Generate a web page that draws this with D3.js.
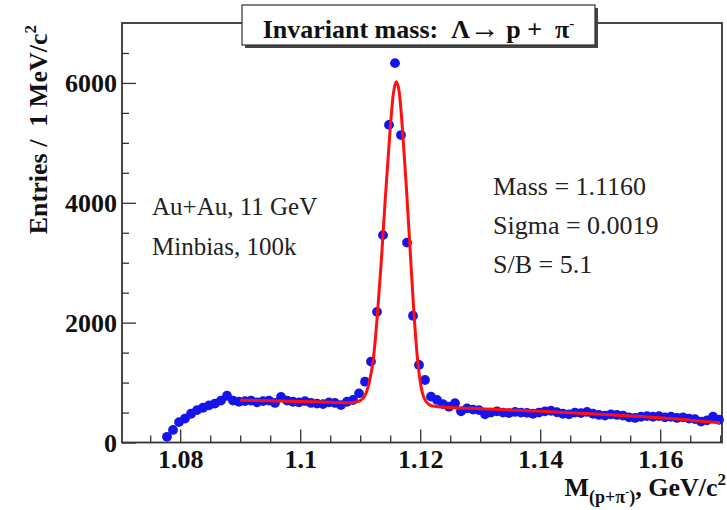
<!DOCTYPE html>
<html>
<head>
<meta charset="utf-8">
<script src="https://cdn.jsdelivr.net/npm/d3@7/dist/d3.min.js"></script>
<style>
  body { margin: 0; background: #fff; }
  svg text { font-family: "Liberation Serif", "DejaVu Serif", serif; }
</style>
</head>
<body>
<svg id="chart" width="727" height="510"></svg>
<script>
"use strict";

// histogram: 1 MeV bins, first bin centre
const binStart = 1.0778;
const binWidth = 0.001;
const counts = [
  95, 210, 340, 400, 480, 540, 580, 620, 650, 700,
  780, 700, 680, 690, 700, 670, 690, 700, 660, 760,
  700, 680, 670, 690, 660, 650, 640, 670, 660, 625,
  680, 709, 820, 1015, 1350, 2180, 3460, 5300, 6330, 5130,
  3335, 2115, 1293, 1043, 765, 710, 640, 598, 655, 520,
  570, 550, 540, 470, 500, 520, 500, 490, 510, 500,
  495, 480, 500, 520, 530, 505, 480, 470, 500, 490,
  510, 480, 460, 450, 470, 460, 450, 420, 410, 430,
  440, 430, 440, 420, 430, 410, 420, 400, 390, 350,
  370, 430, 380
];

// fit curve
const fitMass = [
  1.0900, 1.0950, 1.1000, 1.1050, 1.1080, 1.1095, 1.1105, 1.1115, 1.1122, 1.1128,
  1.1135, 1.1142, 1.1149, 1.1155, 1.1160, 1.1165, 1.1171, 1.1177, 1.1183, 1.1189,
  1.1195, 1.1202, 1.1210, 1.1220, 1.1250, 1.1300, 1.1400, 1.1500, 1.1600, 1.1700
];
const fitValue = [
  705, 695, 685, 670, 665, 680, 740, 1000, 1400, 2050,
  3000, 4100, 5100, 5800, 6020, 5850, 5150, 4250, 3250, 2250,
  1450, 900, 680, 610, 585, 565, 520, 470, 415, 330
];

const xMajor = [1.08, 1.1, 1.12, 1.14, 1.16];
const xLabels = ["1.08", "1.1", "1.12", "1.14", "1.16"];
const yMajor = [0, 2000, 4000, 6000];

const leftNotes = ["Au+Au, 11 GeV", "Minbias, 100k"];
const rightNotes = ["Mass = 1.1160", "Sigma = 0.0019", "S/B = 5.1"];

let frame = {left: 122, right: 722, top: 23, bottom: 442.5};

let svg = d3.select("#chart");

let x = d3.scaleLinear()
  .domain([1.0703, 1.1703])
  .range([frame.left, frame.right]);

let y = d3.scaleLinear()
  .domain([0, 7000])
  .range([frame.bottom, frame.top]);

// minor ticks
let xMinor = d3.range(1.075, 1.1701, 0.005).filter(v => !xMajor.some(m => Math.abs(m - v) < 1e-6));
let yMinor = d3.range(500, 7000, 500).filter(v => v % 2000 !== 0);

svg.append("g")
  .attr("transform", `translate(0,${frame.bottom})`)
  .call(d3.axisBottom(x).tickValues(xMinor).tickSize(-7).tickFormat(""))
  .call(g => g.select(".domain").remove());

svg.append("g")
  .attr("transform", `translate(${frame.left},0)`)
  .call(d3.axisLeft(y).tickValues(yMinor).tickSize(-7).tickFormat(""))
  .call(g => g.select(".domain").remove());

let xAxis = svg.append("g")
  .attr("transform", `translate(0,${frame.bottom})`)
  .call(d3.axisBottom(x).tickValues(xMajor).tickSize(-13)
    .tickFormat((d, i) => xLabels[i]))
  .call(g => g.select(".domain").remove());

xAxis.selectAll("text")
  .attr("dy", null)
  .attr("y", 25)
  .style("font-family", "Liberation Serif")
  .style("font-weight", "bold")
  .style("font-size", "26px")
  .attr("fill", "#111");

let yAxis = svg.append("g")
  .attr("transform", `translate(${frame.left},0)`)
  .call(d3.axisLeft(y).tickValues(yMajor).tickSize(-14).tickPadding(5)
    .tickFormat(d3.format("d")))
  .call(g => g.select(".domain").remove());

yAxis.selectAll("text")
  .attr("dy", "0.34em")
  .style("font-family", "Liberation Serif")
  .style("font-weight", "bold")
  .style("font-size", "26px")
  .attr("fill", "#111");

svg.selectAll(".tick line").attr("stroke", "#333").attr("stroke-width", 1.3);

// frame
svg.append("rect")
  .attr("x", frame.left)
  .attr("y", frame.top)
  .attr("width", frame.right - frame.left)
  .attr("height", frame.bottom - frame.top)
  .attr("fill", "none")
  .attr("stroke", "#333")
  .attr("stroke-width", 1.8);

// data points
svg.append("g")
  .selectAll("circle")
  .data(counts)
  .join("circle")
    .attr("cx", (d, i) => x(binStart + i * binWidth))
    .attr("cy", d => y(d))
    .attr("r", 4.9)
    .attr("fill", "#1414ec");

// fit
let fitLine = d3.line()
  .x((d, i) => x(fitMass[i]))
  .y(d => y(d))
  .curve(d3.curveMonotoneX);

svg.append("path")
  .attr("d", fitLine(fitValue))
  .attr("fill", "none")
  .attr("stroke", "#ff1010")
  .attr("stroke-width", 3);

// annotations
svg.append("g")
  .selectAll("text")
  .data(leftNotes)
  .join("text")
    .attr("x", 152)
    .attr("y", (d, i) => 215 + i * 40)
    .style("font-size", "25px")
    .attr("fill", "#222")
    .text(d => d);

svg.append("g")
  .selectAll("text")
  .data(rightNotes)
  .join("text")
    .attr("x", 493)
    .attr("y", (d, i) => 195 + i * 39)
    .style("font-size", "26px")
    .attr("fill", "#222")
    .text(d => d);

// title box
let tb = {x: 242, y: 5, w: 353, h: 40};
svg.append("rect")
  .attr("x", tb.x + 3).attr("y", tb.y + 3)
  .attr("width", tb.w).attr("height", tb.h)
  .attr("fill", "#444");
svg.append("rect")
  .attr("x", tb.x).attr("y", tb.y)
  .attr("width", tb.w).attr("height", tb.h)
  .attr("fill", "#fff")
  .attr("stroke", "#333")
  .attr("stroke-width", 1.2);

let title = svg.append("text")
  .attr("x", tb.x + tb.w / 2)
  .attr("y", 38)
  .attr("text-anchor", "middle")
  .style("font-size", "26px")
  .style("font-weight", "bold")
  .attr("fill", "#111")
  .attr("xml:space", "preserve");
title.append("tspan").text("Invariant mass:  Λ");
title.append("tspan").style("font-size", "30px").style("font-weight", "normal").text("→");
title.append("tspan").text(" p +  π");
title.append("tspan").attr("dy", -10).style("font-size", "15px").text("-");

// y axis title
let yTitle = svg.append("text")
  .attr("transform", "translate(47,25) rotate(-90)")
  .attr("text-anchor", "end")
  .style("font-size", "26px")
  .style("font-weight", "bold")
  .attr("fill", "#111")
  .attr("xml:space", "preserve");
yTitle.append("tspan").text("Entries /  1 MeV/c");
yTitle.append("tspan").attr("dy", -11).style("font-size", "17px").text("2");

// x axis title
let xTitle = svg.append("text")
  .attr("x", 726)
  .attr("y", 496)
  .attr("text-anchor", "end")
  .style("font-size", "26px")
  .style("font-weight", "bold")
  .attr("fill", "#111");
xTitle.append("tspan").text("M");
xTitle.append("tspan").attr("dy", 7).style("font-size", "18px").text("(p+π");
xTitle.append("tspan").attr("dy", -7).style("font-size", "12px").text("-");
xTitle.append("tspan").attr("dy", 7).style("font-size", "18px").text(")");
xTitle.append("tspan").attr("dy", -7).text(", GeV/c");
xTitle.append("tspan").attr("dy", -11).style("font-size", "17px").text("2");
</script>
</body>
</html>
